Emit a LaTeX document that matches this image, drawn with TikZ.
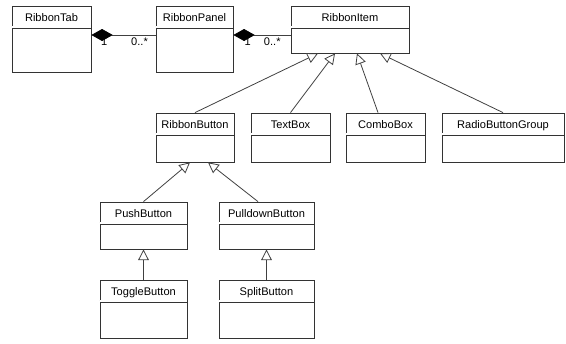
\documentclass[tikz,border=0pt]{standalone}
\usepackage{fontspec}
\setmainfont{Liberation Sans}
\usetikzlibrary{arrows.meta, calc, fit}

\begin{document}
\begin{tikzpicture}[x=0.75pt, y=-0.75pt,
        classbox/.style={draw=black!80, line width=0.6pt, inner sep=0pt},
        classname/.style={anchor=base, font=\fontsize{8.3}{9}\selectfont, inner sep=0pt},
        sepline/.style={draw=black!80, line width=0.5pt, double, double distance=1.4pt},
        generalize/.style={draw=black!75, line width=0.6pt, -{Triangle[open, length=8pt, width=8pt]}},
        composition/.style={draw=black!75, line width=0.6pt, {Diamond[length=16pt, width=9pt, color=black, fill=black]}-},
        mult/.style={below, font=\fontsize{8.3}{9}\selectfont, inner sep=2pt}]
        \useasboundingbox (0,0) rectangle (566,343);

        \node[classbox, fit={(12,6) (91,72)}] (tab) {};
        \node[classname] (tabname) at ($(tab.north)+(0,16)$) {RibbonTab};
        \draw[sepline] ($(tab.north west)+(0,21.5)$) -- ($(tab.north east)+(0,21.5)$);

        \node[classbox, fit={(156,6) (233,72)}] (panel) {};
        \node[classname] (panelname) at ($(panel.north)+(0,16)$) {RibbonPanel};
        \draw[sepline] ($(panel.north west)+(0,21.5)$) -- ($(panel.north east)+(0,21.5)$);

        \node[classbox, fit={(291,6) (409,53)}] (item) {};
        \node[classname] (itemname) at ($(item.north)+(0,16)$) {RibbonItem};
        \draw[sepline] ($(item.north west)+(0,21.5)$) -- ($(item.north east)+(0,21.5)$);

        \node[classbox, fit={(156,113) (234,162)}] (button) {};
        \node[classname] (buttonname) at ($(button.north)+(0,16)$) {RibbonButton};
        \draw[sepline] ($(button.north west)+(0,21.5)$) -- ($(button.north east)+(0,21.5)$);

        \node[classbox, fit={(251,113) (330,162)}] (textbox) {};
        \node[classname] (textboxname) at ($(textbox.north)+(0,16)$) {TextBox};
        \draw[sepline] ($(textbox.north west)+(0,21.5)$) -- ($(textbox.north east)+(0,21.5)$);

        \node[classbox, fit={(346,113) (425,162)}] (combo) {};
        \node[classname] (comboname) at ($(combo.north)+(0,16)$) {ComboBox};
        \draw[sepline] ($(combo.north west)+(0,21.5)$) -- ($(combo.north east)+(0,21.5)$);

        \node[classbox, fit={(442,113) (564,162)}] (radio) {};
        \node[classname] (radioname) at ($(radio.north)+(0,16)$) {RadioButtonGroup};
        \draw[sepline] ($(radio.north west)+(0,21.5)$) -- ($(radio.north east)+(0,21.5)$);

        \node[classbox, fit={(100,202) (187,249)}] (push) {};
        \node[classname] (pushname) at ($(push.north)+(0,16)$) {PushButton};
        \draw[sepline] ($(push.north west)+(0,21.5)$) -- ($(push.north east)+(0,21.5)$);

        \node[classbox, fit={(219,202) (314,249)}] (pulldown) {};
        \node[classname] (pulldownname) at ($(pulldown.north)+(0,16)$) {PulldownButton};
        \draw[sepline] ($(pulldown.north west)+(0,21.5)$) -- ($(pulldown.north east)+(0,21.5)$);

        \node[classbox, fit={(100,280) (187,338)}] (toggle) {};
        \node[classname] (togglename) at ($(toggle.north)+(0,16)$) {ToggleButton};
        \draw[sepline] ($(toggle.north west)+(0,21.5)$) -- ($(toggle.north east)+(0,21.5)$);

        \node[classbox, fit={(219,280) (314,338)}] (split) {};
        \node[classname] (splitname) at ($(split.north)+(0,16)$) {SplitButton};
        \draw[sepline] ($(split.north west)+(0,21.5)$) -- ($(split.north east)+(0,21.5)$);

        % composition
        \draw[composition] ([yshift=3pt]tab.east) -- ([yshift=3pt]panel.west)
            node[mult, pos=0.2] (tabone) {1}
            node[mult, pos=0.75] (tabmany) {0..*};
        \draw[composition] ([yshift=3pt]panel.east) -- ([yshift=3pt]panel.east -| item.west)
            node[mult, pos=0.25] (panelone) {1}
            node[mult, pos=0.68] (panelmany) {0..*};

        % generalization
        \draw[generalize] (button.north) -- ($(item.south)+(-32,0)$);
        \draw[generalize] (textbox.north) -- ($(item.south)+(-15,0)$);
        \draw[generalize] ($(combo.north)+(-7.5,0)$) -- ($(item.south)+(7,0)$);
        \draw[generalize] (radio.north) -- ($(item.south)+(30,0)$);

        \draw[generalize] (push.north) -- ($(button.south)+(-5,0)$);
        \draw[generalize] ($(pulldown.north)+(-8.5,0)$) -- ($(button.south)+(13,0)$);

        \draw[generalize] (toggle.north) -- (push.south);
        \draw[generalize] (split.north) -- (pulldown.south);
      \end{tikzpicture}
\end{document}
